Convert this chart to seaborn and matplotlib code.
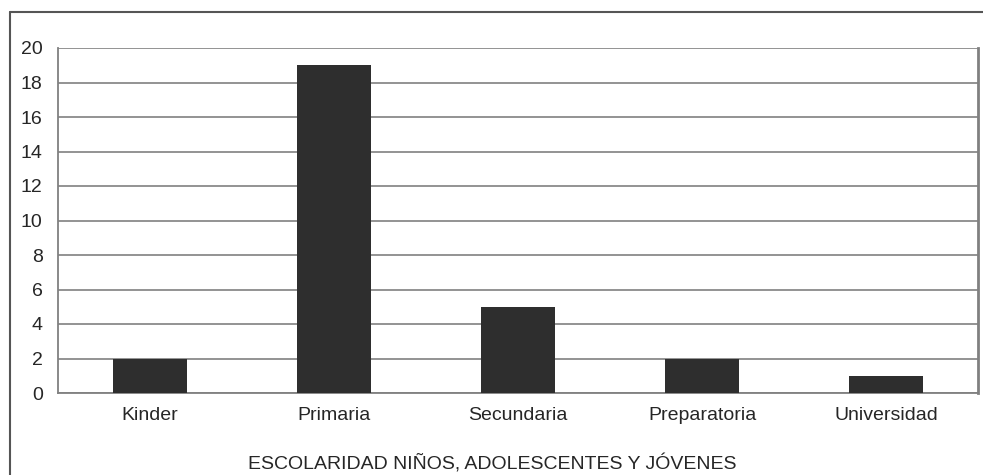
import matplotlib
matplotlib.use("Agg")
import matplotlib.pyplot as plt
import seaborn as sns
import pandas as pd
from matplotlib.lines import Line2D

categories = ["Kinder", "Primaria", "Secundaria", "Preparatoria", "Universidad"]
values = [2, 19, 5, 2, 1]
yticks = [0, 2, 4, 6, 8, 10, 12, 14, 16, 18, 20]
xlabel = "ESCOLARIDAD NIÑOS, ADOLESCENTES Y JÓVENES"

sns.set_style("white")
plt.rcParams['font.family'] = ['Liberation Sans', 'DejaVu Sans']

W, H = 983, 475
fig = plt.figure(figsize=(W / 100, H / 100), dpi=100)
ax = fig.add_axes([58 / W, 1 - 393 / H, (978 - 58) / W, (393 - 48) / H])

df = pd.DataFrame({"cat": categories, "val": values})
sns.barplot(data=df, x="cat", y="val", color="#2e2e2e", width=0.405,
            saturation=1, ax=ax, zorder=3, linewidth=0, edgecolor="none")

ax.set_ylim(0, 20)
ax.set_xlim(-0.5, len(categories) - 0.5)
ax.set_yticks(yticks)
ax.set_yticklabels([str(v) for v in yticks], fontsize=14)
ax.yaxis.grid(True, color="#8a8a8a", linewidth=1.3, zorder=0)
ax.set_axisbelow(True)

ax.set_xticks(range(len(categories)))
ax.set_xticklabels(categories, fontsize=14)
ax.set_xticks([i - 0.5 for i in range(len(categories) + 1)], minor=True)
ax.tick_params(axis="x", which="major", length=0, pad=10)
ax.tick_params(axis="x", which="minor", length=5, width=1, color="#777777", direction="out")
ax.tick_params(axis="y", length=5, width=1, color="#777777", direction="out", pad=6)
ax.set_xlabel("")
ax.set_ylabel("")

fig.text(492 / W, 1 - 464 / H, xlabel, fontsize=14, ha="center", va="center")

for s in ["left", "bottom"]:
    ax.spines[s].set_color("#808080")
    ax.spines[s].set_linewidth(1.3)
ax.spines["top"].set_visible(False)
ax.spines["right"].set_color("#808080")
ax.spines["right"].set_linewidth(2.0)

# outer frame
fig.add_artist(Line2D([10 / W, 10 / W], [0, 1 - 12 / H], transform=fig.transFigure,
                      color="#555555", linewidth=1.5))
fig.add_artist(Line2D([10 / W, 1], [1 - 12 / H, 1 - 12 / H], transform=fig.transFigure,
                      color="#555555", linewidth=1.5))

fig.savefig("out.png", dpi=100)
